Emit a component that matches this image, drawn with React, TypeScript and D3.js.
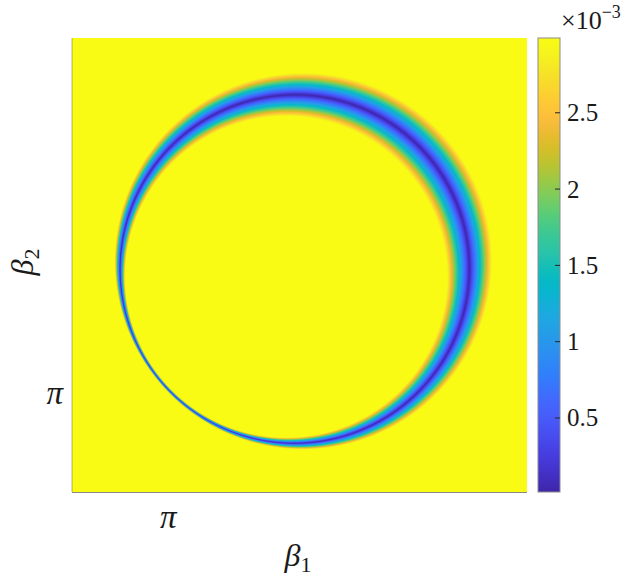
import React, { useMemo } from "react";
import * as d3 from "d3";

// Axis domain (both axes) and tick labels
const xDomain = [2.5, 5.5];
const yDomain = [2.5, 5.5];
const xTicks = [Math.PI];
const yTicks = [Math.PI];
const tickLabels = ["π"];

// Colour scale range (×10^-3) and colorbar ticks
const cRange = [0.015, 2.99];
const cTicks = [0.5, 1, 1.5, 2, 2.5];

// Ring field: outer circle and inner (eccentric) circle, data units [cx, cy, r]
const outerCircle = [4.026, 4.026, 1.244];
const innerCircle = [3.911, 3.921, 1.0615];
const profileExponent = [1.0];

// Parula colormap stops
const parula = [
  [0.2422, 0.1504, 0.6603], [0.2578, 0.1818, 0.7511], [0.2706, 0.2147, 0.8364],
  [0.2783, 0.2559, 0.8991], [0.2813, 0.3006, 0.9414], [0.2795, 0.3447, 0.9717],
  [0.2699, 0.3892, 0.9906], [0.244, 0.4358, 0.9988], [0.1963, 0.4847, 0.9892],
  [0.1786, 0.5289, 0.9682], [0.1687, 0.5703, 0.9359], [0.146, 0.6091, 0.9079],
  [0.1248, 0.6459, 0.8883], [0.0952, 0.6798, 0.8598], [0.0297, 0.7082, 0.8163],
  [0.0067, 0.7312, 0.766], [0.0964, 0.75, 0.712], [0.1717, 0.767, 0.6554],
  [0.2161, 0.7843, 0.5923], [0.2906, 0.7973, 0.5188], [0.3909, 0.8029, 0.4354],
  [0.5044, 0.7993, 0.348], [0.6174, 0.7876, 0.2612], [0.7242, 0.7698, 0.191],
  [0.8203, 0.7498, 0.1535], [0.9035, 0.733, 0.1774], [0.9728, 0.7298, 0.2394],
  [0.997, 0.7659, 0.2199], [0.9892, 0.8136, 0.1885], [0.9676, 0.8639, 0.1643],
  [0.9597, 0.9135, 0.1423], [0.9691, 0.9606, 0.1064], [0.9769, 0.9839, 0.0805],
];

const W = 632, H = 581;
const plot = { x0: 72, x1: 527, y0: 38, y1: 492 };
const cbar = { x0: 538, x1: 560 };

const interp = d3.interpolateRgbBasis(
  parula.map(([r, g, b]) => d3.rgb(r * 255, g * 255, b * 255).toString())
);

export default function App() {
  const x = d3.scaleLinear().domain(xDomain).range([plot.x0, plot.x1]);
  const y = d3.scaleLinear().domain(yDomain).range([plot.y1, plot.y0]);
  const c = d3.scaleLinear().domain(cRange).range([plot.y1, plot.y0]);
  const cNorm = d3.scaleLinear().domain(cRange).range([0, 1]).clamp(true);

  const href = useMemo(() => {
    const ss = 2;
    const nw = Math.round((plot.x1 - plot.x0) * ss);
    const nh = Math.round((plot.y1 - plot.y0) * ss);
    const canvas = document.createElement("canvas");
    canvas.width = nw;
    canvas.height = nh;
    const ctx = canvas.getContext("2d")!;
    const img = ctx.createImageData(nw, nh);
    const lut: number[][] = [];
    for (let i = 0; i < 256; i++) {
      const col = d3.rgb(interp(i / 255));
      lut.push([col.r, col.g, col.b]);
    }
    const [ocx, ocy, or] = outerCircle;
    const [icx, icy, ir] = innerCircle;
    const p = profileExponent[0];
    for (let j = 0; j < nh; j++) {
      const yd = y.invert(plot.y0 + (j + 0.5) / ss);
      for (let i = 0; i < nw; i++) {
        const xd = x.invert(plot.x0 + (i + 0.5) / ss);
        const f = or - Math.hypot(xd - ocx, yd - ocy);
        const g = Math.hypot(xd - icx, yd - icy) - ir;
        let v = cRange[1];
        if (f > 0 && g > 0) {
          const s = g / (f + g);
          v = cRange[0] + (cRange[1] - cRange[0]) * Math.pow(Math.abs(2 * s - 1), p);
        }
        const t = Math.round(cNorm(v) * 255);
        const k = (j * nw + i) * 4;
        img.data[k] = lut[t][0];
        img.data[k + 1] = lut[t][1];
        img.data[k + 2] = lut[t][2];
        img.data[k + 3] = 255;
      }
    }
    ctx.putImageData(img, 0, 0);
    return canvas.toDataURL();
  }, []);

  const stops = d3.range(0, 65).map((i) => i / 64);
  const serif = "Liberation Serif, DejaVu Serif, serif";

  return (
    <svg width={W} height={H} style={{ position: "absolute", left: 0, top: 0 }}>
      <defs>
        <linearGradient id="cb" x1="0" y1="1" x2="0" y2="0">
          {stops.map((t) => (
            <stop key={t} offset={t} stopColor={interp(t)} />
          ))}
        </linearGradient>
      </defs>
      <rect width={W} height={H} fill="#fff" />
      <image
        href={href}
        x={plot.x0}
        y={plot.y0}
        width={plot.x1 - plot.x0}
        height={plot.y1 - plot.y0}
        preserveAspectRatio="none"
      />
      {/* axis lines */}
      <line x1={plot.x0} x2={plot.x0} y1={plot.y0} y2={plot.y1} stroke="#262626" strokeOpacity={0.35} />
      <line x1={plot.x0} x2={plot.x1} y1={plot.y1 + 0.5} y2={plot.y1 + 0.5} stroke="#262626" strokeOpacity={0.55} />
      {/* tick labels */}
      {xTicks.map((t, i) => (
        <text key={"x" + i} x={x(t) - 1} y={528} textAnchor="middle" fontFamily={serif} fontStyle="italic" fontSize={33} fill="#1a1a1a">
          {tickLabels[i]}
        </text>
      ))}
      {yTicks.map((t, i) => (
        <text key={"y" + i} x={63} y={y(t)} dy="0.27em" textAnchor="end" fontFamily={serif} fontStyle="italic" fontSize={33} fill="#1a1a1a">
          {tickLabels[i]}
        </text>
      ))}
      {/* axis labels */}
      <text x={298} y={566} textAnchor="middle" fontFamily={serif} fill="#1a1a1a">
        <tspan fontStyle="italic" fontSize={32}>β</tspan>
        <tspan fontSize={22} dy={6}>1</tspan>
      </text>
      <text transform="translate(33,262) rotate(-90)" textAnchor="middle" fontFamily={serif} fill="#1a1a1a">
        <tspan fontStyle="italic" fontSize={32}>β</tspan>
        <tspan fontSize={22} dy={6}>2</tspan>
      </text>
      {/* colorbar */}
      <rect x={cbar.x0} y={plot.y0} width={cbar.x1 - cbar.x0} height={plot.y1 - plot.y0} fill="url(#cb)" stroke="#8c8c8c" strokeWidth={1} />
      {cTicks.map((t) => (
        <g key={t}>
          <line x1={cbar.x1 - 5} x2={cbar.x1} y1={c(t)} y2={c(t)} stroke="#262626" />
          <text x={567} y={c(t)} dy="0.34em" fontFamily={serif} fontSize={25} fill="#1a1a1a">
            {String(t)}
          </text>
        </g>
      ))}
      <text x={561} y={29} fontFamily={serif} fontSize={26} fill="#1a1a1a">
        ×10
        <tspan fontSize={18} dy={-11}>−3</tspan>
      </text>
    </svg>
  );
}
